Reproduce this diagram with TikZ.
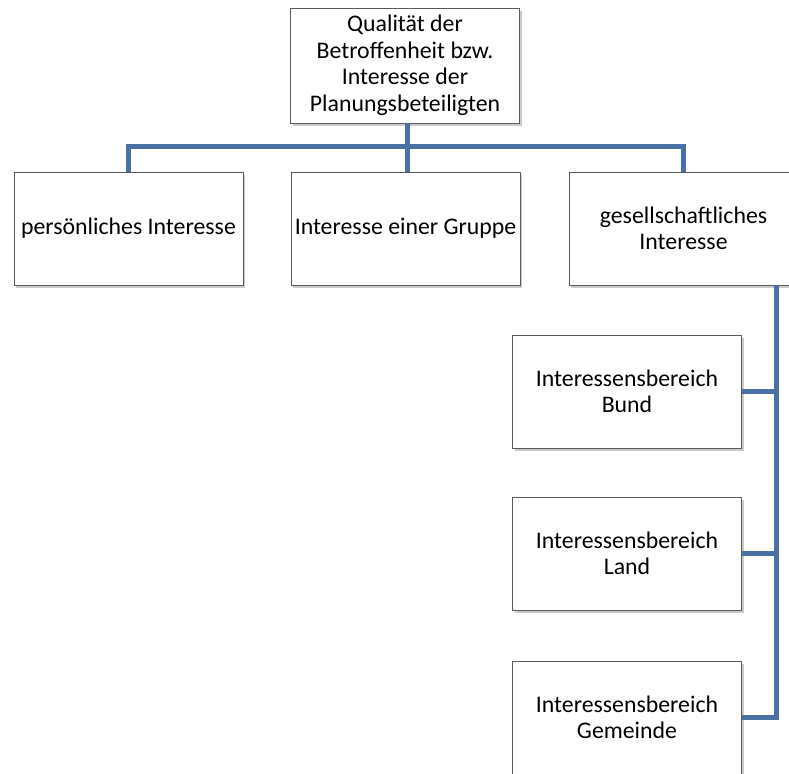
\documentclass[tikz,border=0pt]{standalone}
\usepackage{fontspec}
\setmainfont{Carlito}
\usetikzlibrary{shadows}
\definecolor{linkblue}{RGB}{74,112,166}
\definecolor{boxline}{RGB}{90,90,90}
\tikzset{
  orgbox/.style={draw=boxline, line width=0.9pt, fill=white,
    minimum width=229pt, minimum height=113pt, inner sep=2pt,
    align=center, font=\fontsize{23.8}{26.5}\selectfont,
    drop shadow={shadow xshift=2pt, shadow yshift=-3pt, opacity=0.35, fill=black!60}},
  conn/.style={draw=linkblue, line width=5pt}
}
\begin{document}
\begin{tikzpicture}[x=1pt,y=1pt]
  \useasboundingbox (0,0) rectangle (789,773);
  \clip (0,0) rectangle (789,773);
  % boxes
  \node[orgbox, minimum height=115pt] (top) at (405,707.5)
    {Qualität der\\Betroffenheit bzw.\\Interesse der\\Planungsbeteiligten};
  \node[orgbox] (pers) at (128.5,544.5) {persönliches Interesse};
  \node[orgbox] (grp) at (405.5,544.5) {Interesse einer Gruppe};
  \node[orgbox] (ges) at (683.5,544.5) {gesellschaftliches\\Interesse};
  \node[orgbox] (bund) at (627,381.5) {Interessensbereich\\Bund};
  \node[orgbox] (land) at (627,219.5) {Interessensbereich\\Land};
  \node[orgbox] (gem) at (627,55.5) {Interessensbereich\\Gemeinde};
  % connector anchors
  \coordinate (bus) at (407,626);
  \coordinate (rail) at (776.5,0);
  % connectors
  \draw[conn] (top.south -| bus) -- (grp.north -| bus);
  \draw[conn] (pers.north) |- (bus) -| (ges.north);
  \draw[conn] (ges.south -| rail) |- (gem.east);
  \draw[conn] (bund.east) -- (bund.east -| rail);
  \draw[conn] (land.east) -- (land.east -| rail);
\end{tikzpicture}
\end{document}
